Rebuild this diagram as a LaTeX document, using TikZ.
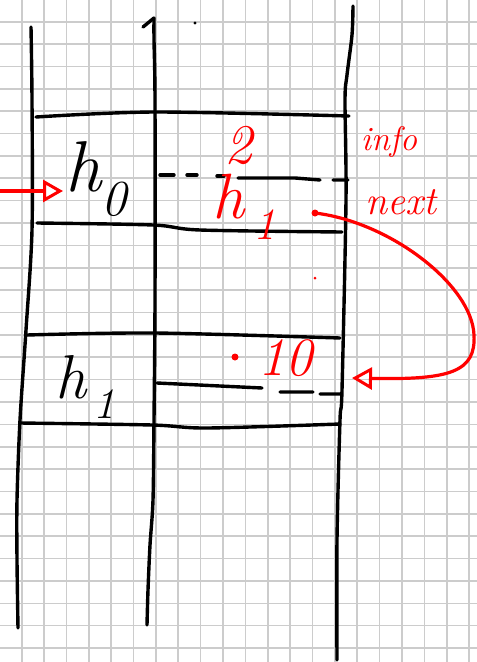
\documentclass[tikz,border=0pt]{standalone}
\usepackage{tikz}
\usetikzlibrary{arrows.meta, positioning}

\begin{document}
\begin{tikzpicture}[
    x=1pt, y=-1pt,
    gridline/.style={draw=black!20, line width=1.6pt},
    ink/.style={draw=black, line width=3.4pt, line cap=round, line join=round},
    redink/.style={draw=red, line width=3.2pt, line cap=round, line join=round},
    arrow/.style={redink, -{Triangle[open, length=20pt, width=22pt, line width=3pt]}},
    hand/.style={inner sep=1pt, font=\itshape},
    dot/.style={circle, fill=red, inner sep=0pt, minimum size=#1},
    dot/.default=7pt
]
\useasboundingbox (0,0) rectangle (477,662);
\fill[white] (0,0) rectangle (477,662);

% Squared paper
\foreach \i in {0,...,21} {
    \draw[gridline] (21.7+22.37*\i-22.37,0) -- ++(0,662);
}
\foreach \i in {0,...,29} {
    \draw[gridline] (0,21.7+22.37*\i-22.37) -- ++(477,0);
}

% Columns of the memory
\draw[ink] plot[smooth] coordinates {(31,27) (32,100) (32,230) (26,330) (20,420) (17,500) (17,560) (18,628)};
\draw[ink] (143,27) -- (154,18);
\draw[ink] plot[smooth] coordinates {(154,18) (154,40) (155,100) (155,300) (154,420) (153,500) (150,545) (148,590) (147,625)};
\draw[ink] plot[smooth] coordinates {(353,6) (352,35) (347,75) (345,100) (346,200) (342,390) (340,420) (337,540) (337,660)};
\fill (195,23) circle (1.6);

% First cell (h0)
\draw[ink] plot[smooth] coordinates {(36,117) (155,112) (349,116)};
\draw[ink] (160,175) -- (174,175) (187,175) -- (197,175) (217,176) -- (224,176);
\draw[ink] (238,178) -- (295,178) -- (320,180) (333,180) -- (348,180);
\draw[ink] plot[smooth] coordinates {(37,223) (153,225) (200,230) (342,232)};

% Second cell (h1)
\draw[ink] plot[smooth] coordinates {(27,335) (155,333) (340,338)};
\draw[ink] (157,383) -- (262,388) (280,392) -- (313,392) (320,394) -- (340,394);
\draw[ink] plot[smooth] coordinates {(20,423) (152,425) (207,428) (340,424)};

% Labels
\node[hand, anchor=base west] (h0) at (64,191) {\fontsize{72}{72}\selectfont h\textsubscript{0}};
\node[hand, anchor=base west] (h1) at (54,398) {\fontsize{62}{62}\selectfont h\hspace{0.12em}\textsubscript{1}};
\node[hand, red] (two) at (238,145) {\fontsize{56}{56}\selectfont 2};
\node[hand, red, anchor=base west] (h1ref) at (211,218) {\fontsize{64}{64}\selectfont h\hspace{0.15em}\textsubscript{1}};
\node[hand, red] (info) at (389,142) {\fontsize{34}{34}\selectfont info};
\node[hand, red] (next) at (401,202) {\fontsize{40}{40}\selectfont next};
\node[dot] (valdot) at (235,357) {};
\node[hand, red] (ten) at (285,358) {\fontsize{54}{54}\selectfont 10};
\node[dot=3pt] (spot) at (315,278) {};

% Pointers
\coordinate (head) at (0,191);
\draw[arrow, shorten >=1pt] (head) -- (h0.base west);
\node[dot] (nxtdot) at (315,213) {};
\coordinate (tgt) at (352,378);
\draw[arrow] (nxtdot.center) .. controls (390,222) and (472,285) .. (474,335)
    .. controls (476,372) and (450,380) .. (tgt);

\end{tikzpicture}
\end{document}
